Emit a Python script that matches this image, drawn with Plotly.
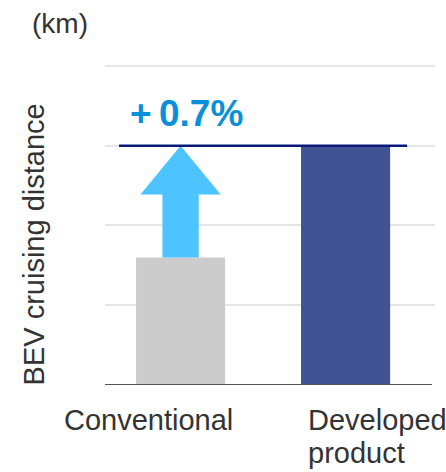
import plotly.graph_objects as go

categories = ["Conventional", "Developed product"]
values = [1.6, 3.0]
bar_colors = ["#cccccc", "#3f5395"]
gain_label = "+\u2009" + "0.7%"
y_title = "BEV cruising distance"
unit_label = "(km)"

W, H = 446, 472
L, R, T, B = 105, 11, 57.5, 86.5
pw = W - L - R
ph = H - T - B

def px_x(p):
    return (p - L) / pw

def px_y(p):
    return (H - B - p) / ph

FONT = "Liberation Sans, Arial, sans-serif"

fig = go.Figure()
xs = [0, 1]
fig.add_trace(go.Bar(x=xs, y=values, width=0.54, marker_color=bar_colors,
                     marker_line_width=0, hoverinfo="skip"))

# arrow from conventional value up to developed value
x0 = xs[0]
y_lo, y_hi = values[0], values[1]
head_h = 0.61
sw, hw = 0.11, 0.243
ax = [x0 - sw, x0 - sw, x0 - hw, x0, x0 + hw, x0 + sw, x0 + sw, x0 - sw]
ay = [y_lo, y_hi - head_h, y_hi - head_h, y_hi, y_hi - head_h, y_hi - head_h, y_lo, y_lo]
fig.add_trace(go.Scatter(x=ax, y=ay, fill="toself", fillcolor="#4dc3ff",
                         line=dict(width=0), mode="lines", hoverinfo="skip"))

# reference line at developed value
fig.add_shape(type="line", xref="x", yref="y", x0=-0.373, x1=1.373,
              y0=values[1], y1=values[1], line=dict(color="#0a1a7a", width=2.5))
# baseline
fig.add_shape(type="line", xref="x", yref="y", x0=-0.476, x1=1.524,
              y0=0, y1=0, line=dict(color="#555555", width=2))

fig.add_annotation(text="<b>" + gain_label + "</b>", xref="paper", yref="paper",
                   x=px_x(128), y=px_y(113), xanchor="left", yanchor="middle",
                   showarrow=False, font=dict(family=FONT, size=37, color="#0a90d8"))

lab_font = dict(family=FONT, size=29, color="#333333")
fig.add_annotation(text=categories[0], xref="paper", yref="paper",
                   x=px_x(148.5), y=px_y(421), xanchor="center", yanchor="middle",
                   showarrow=False, font=lab_font)
dev_lines = categories[1].split(" ")
for i, line in enumerate(dev_lines):
    fig.add_annotation(text=line, xref="paper", yref="paper",
                       x=px_x(306), y=px_y(421 + 32.3 * i), xanchor="left", yanchor="middle",
                       showarrow=False, font=lab_font)
fig.add_annotation(text=y_title, xref="paper", yref="paper", textangle=-90,
                   x=px_x(34), y=px_y(244.5), xanchor="center", yanchor="middle",
                   showarrow=False, font=lab_font)
fig.add_annotation(text=unit_label, xref="paper", yref="paper",
                   x=px_x(60), y=px_y(23), xanchor="center", yanchor="middle",
                   showarrow=False, font=dict(family=FONT, size=28, color="#333333"))

fig.update_layout(
    width=W, height=H, margin=dict(l=L, r=R, t=T, b=B),
    paper_bgcolor="white", plot_bgcolor="white", showlegend=False,
    xaxis=dict(range=[-0.458, 1.542], showticklabels=False, showgrid=False,
               zeroline=False, showline=False, ticks=""),
    yaxis=dict(range=[0, 4.1], tickvals=[1, 2, 3, 4], showticklabels=False,
               showgrid=True, gridcolor="#e6e6e6", gridwidth=2,
               zeroline=False, showline=False, ticks=""),
)

fig.write_html("out.html")
